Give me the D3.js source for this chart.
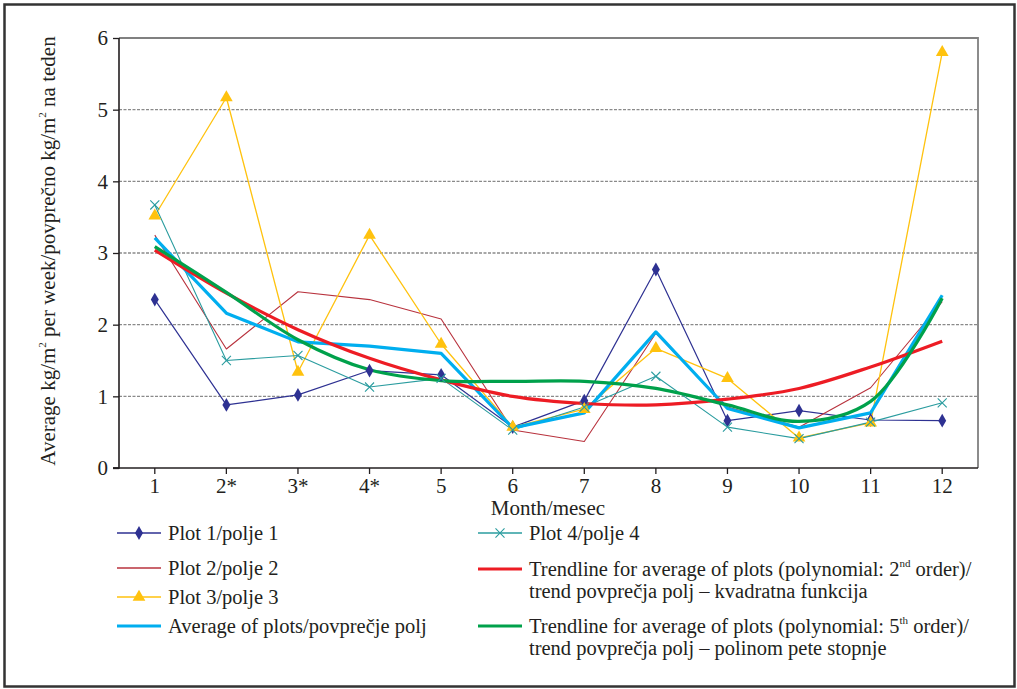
<!DOCTYPE html>
<html>
<head>
<meta charset="utf-8">
<script src="https://cdn.jsdelivr.net/npm/d3@7"></script>
<style>
  body { margin: 0; background: #fff; }
  svg text { font-family: "Liberation Serif", "Times New Roman", serif; fill: #231f20; }
</style>
</head>
<body>
<svg id="chart" width="1017" height="689"></svg>
<script>
// data
const months = ['1', '2*', '3*', '4*', '5', '6', '7', '8', '9', '10', '11', '12'];
const yTicks = [0, 1, 2, 3, 4, 5, 6];

const plot1 = [2.35, 0.88, 1.02, 1.36, 1.30, 0.57, 0.94, 2.77, 0.66, 0.80, 0.67, 0.66];
const plot2 = [3.25, 1.66, 2.46, 2.35, 2.08, 0.53, 0.37, 1.88, 0.85, 0.57, 1.12, 2.32];
const plot3 = [3.52, 5.17, 1.34, 3.25, 1.73, 0.57, 0.82, 1.67, 1.25, 0.42, 0.63, 5.80];
const plot4 = [3.67, 1.50, 1.57, 1.13, 1.25, 0.53, 0.85, 1.28, 0.57, 0.41, 0.64, 0.91];
const average = [3.21, 2.16, 1.76, 1.70, 1.60, 0.56, 0.77, 1.90, 0.83, 0.56, 0.77, 2.41];
const trend2 = [3.04, 2.44, 1.93, 1.53, 1.23, 1.00, 0.90, 0.88, 0.96, 1.11, 1.41, 1.77];
const trend5 = [3.09, 2.45, 1.79, 1.37, 1.22, 1.21, 1.21, 1.11, 0.88, 0.65, 0.93, 2.37];

const series = [
  { name: 'Plot 1/polje 1', values: plot1, color: '#2e3192', width: 1.2, marker: 'diamond' },
  { name: 'Plot 2/polje 2', values: plot2, color: '#b8323d', width: 1.1, marker: null },
  { name: 'Plot 3/polje 3', values: plot3, color: '#ffc20e', width: 1.3, marker: 'triangle' },
  { name: 'Plot 4/polje 4', values: plot4, color: '#2a9c9f', width: 1.1, marker: 'times' },
  { name: 'Average of plots/povprečje polj', values: average, color: '#00aeef', width: 3.2, marker: null },
  { name: 'trend2', values: trend2, color: '#ed1c24', width: 3.2, marker: null, smooth: true },
  { name: 'trend5', values: trend5, color: '#00a14b', width: 3.2, marker: null, smooth: true }
];

const svg = d3.select('#chart');
const plot = { left: 119, right: 978, top: 38, bottom: 468 };
const fontSize = 21;

// outer frame
svg.append('rect')
    .attr('x', 4.5).attr('y', 4.5)
    .attr('width', 1010).attr('height', 682)
    .attr('fill', 'none')
    .attr('stroke', '#333')
    .attr('stroke-width', 2.5);

const x = d3.scaleBand()
    .domain(months)
    .range([plot.left, plot.right])
    .padding(0);

const y = d3.scaleLinear()
    .domain([0, 6])
    .range([plot.bottom, plot.top]);

const cx = d => x(d) + x.bandwidth() / 2;

// gridlines
svg.append('g')
    .selectAll('line')
    .data(yTicks.filter(t => t > 0 && t < 6))
    .enter()
    .append('line')
    .attr('x1', plot.left).attr('x2', plot.right)
    .attr('y1', d => y(d)).attr('y2', d => y(d))
    .attr('stroke', '#8a8a8a')
    .attr('stroke-width', 1.3)
    .attr('stroke-dasharray', '3,1.5');

// plot area top and right border
svg.append('path')
    .attr('d', `M${plot.left},${y(6)}H${plot.right}V${plot.bottom}`)
    .attr('fill', 'none')
    .attr('stroke', '#808080')
    .attr('stroke-width', 1.8);

// axes
const yAxis = svg.append('g')
    .attr('transform', `translate(${plot.left},0)`)
    .call(d3.axisLeft(y).tickValues(yTicks).tickSize(6).tickPadding(5).tickFormat(d3.format('d')));

const xAxis = svg.append('g')
    .attr('transform', `translate(0,${plot.bottom})`)
    .call(d3.axisBottom(x).tickSize(6).tickPadding(4));

[yAxis, xAxis].forEach(a => {
    a.select('.domain').attr('stroke', '#231f20').attr('stroke-width', 1.6);
    a.selectAll('.tick line').attr('stroke', '#231f20').attr('stroke-width', 1.3);
    a.selectAll('.tick text')
        .style('font-family', '"Liberation Serif", serif')
        .style('font-size', fontSize + 'px')
        .attr('fill', '#231f20');
});
yAxis.select('.domain').attr('d', `M-6,${plot.bottom}H0V${plot.top}`);
xAxis.select('.domain').attr('d', `M${plot.left - 6},0H${plot.right}`);

// axis titles
svg.append('text')
    .attr('x', 548).attr('y', 515)
    .attr('text-anchor', 'middle')
    .style('font-size', fontSize + 'px')
    .text('Month/mesec');

const yTitle = svg.append('text')
    .attr('transform', 'translate(55,251) rotate(-90)')
    .attr('text-anchor', 'middle')
    .style('font-size', '21px');
yTitle.append('tspan').text('Average kg/m');
yTitle.append('tspan').attr('dy', -9).style('font-size', '11px').text('2');
yTitle.append('tspan').attr('dy', 9).text(' per week/povprečno kg/m');
yTitle.append('tspan').attr('dy', -9).style('font-size', '11px').text('2');
yTitle.append('tspan').attr('dy', 9).text(' na teden');

// lines
const line = d3.line()
    .x((d, i) => cx(months[i]))
    .y(d => y(d));

const smoothLine = d3.line()
    .x((d, i) => cx(months[i]))
    .y(d => y(d))
    .curve(d3.curveCatmullRom.alpha(0.5));

const symbols = {
    diamond: d3.symbol().type(d3.symbolDiamond).size(55),
    triangle: d3.symbol().type(d3.symbolTriangle).size(70),
    times: d3.symbol().type(d3.symbolTimes).size(55)
};

function drawMarker(g, s, px, py) {
    const m = g.append('path')
        .attr('d', symbols[s.marker]())
        .attr('transform', `translate(${px},${py})`);
    if (s.marker === 'times') {
        m.attr('fill', 'none').attr('stroke', s.color).attr('stroke-width', 1.1);
    } else {
        m.attr('fill', s.color);
    }
}

const linesG = svg.append('g');
series.forEach(s => {
    linesG.append('path')
        .datum(s.values)
        .attr('fill', 'none')
        .attr('stroke', s.color)
        .attr('stroke-width', s.width)
        .attr('stroke-linejoin', 'round')
        .attr('d', s.smooth ? smoothLine : line);
});

const markersG = svg.append('g');
series.filter(s => s.marker).forEach(s => {
    s.values.forEach((v, i) => drawMarker(markersG, s, cx(months[i]), y(v)));
});

// legend
const legendItems = [
    { s: series[0], x: 117, y: 533, lines: [['Plot 1/polje 1']] },
    { s: series[1], x: 117, y: 568, lines: [['Plot 2/polje 2']] },
    { s: series[2], x: 117, y: 597, lines: [['Plot 3/polje 3']] },
    { s: series[4], x: 117, y: 626, lines: [['Average of plots/povprečje polj']] },
    { s: series[3], x: 478, y: 533, lines: [['Plot 4/polje 4']] },
    { s: series[5], x: 478, y: 569, lines: [['Trendline for average of plots (polynomial: 2', 'nd', ' order)/'], ['trend povprečja polj – kvadratna funkcija']] },
    { s: series[6], x: 478, y: 626, lines: [['Trendline for average of plots (polynomial: 5', 'th', ' order)/'], ['trend povprečja polj – polinom pete stopnje']] }
];

const legend = svg.append('g');
legendItems.forEach(item => {
    const g = legend.append('g');
    const lineEnd = item.x + 44;
    g.append('line')
        .attr('x1', item.x).attr('x2', lineEnd)
        .attr('y1', item.y).attr('y2', item.y)
        .attr('stroke', item.s.color)
        .attr('stroke-width', Math.min(item.s.width + 0.3, 3.2));
    if (item.s.marker) drawMarker(g, item.s, item.x + 22, item.y);

    const tx = item.x + 51;
    item.lines.forEach((parts, li) => {
        const t = g.append('text')
            .attr('x', tx)
            .attr('y', item.y + 7 + li * 22)
            .style('font-size', '20.5px');
        t.append('tspan').text(parts[0]);
        if (parts.length > 1) {
            t.append('tspan').attr('dy', -9).style('font-size', '11px').text(parts[1]);
            t.append('tspan').attr('dy', 9).text(parts[2]);
        }
    });
});
</script>
</body>
</html>
